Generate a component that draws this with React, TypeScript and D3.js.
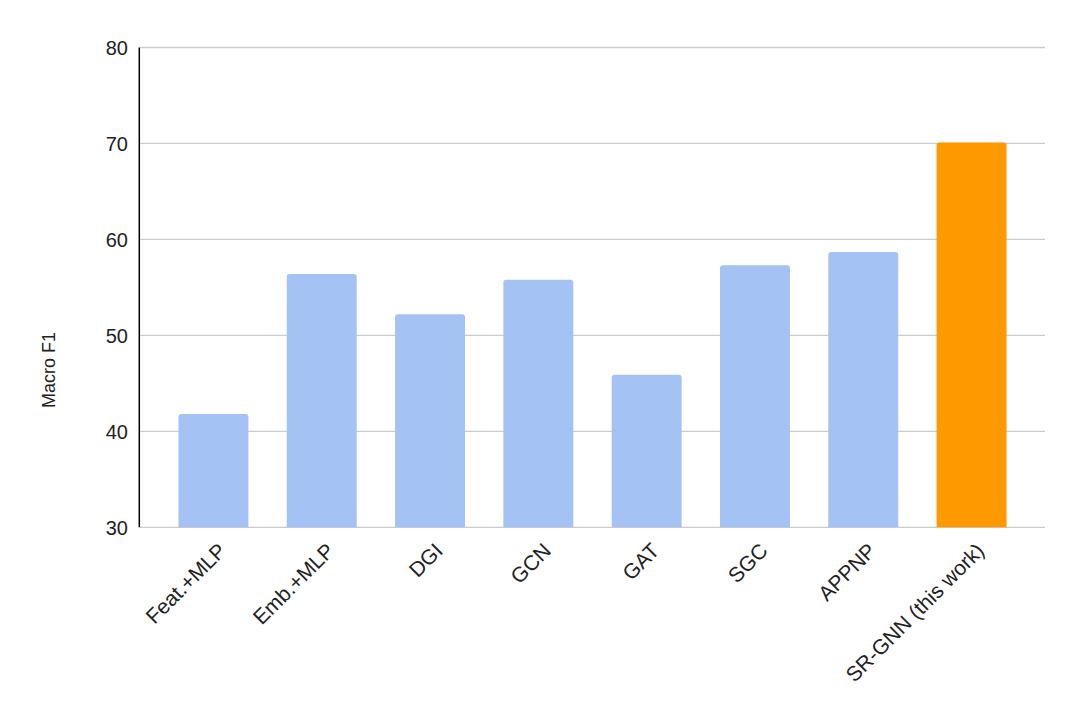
import React from "react";
import * as d3 from "d3";

const categories = ["Feat.+MLP", "Emb.+MLP", "DGI", "GCN", "GAT", "SGC", "APPNP", "SR-GNN (this work)"];
const values = [41.8, 56.4, 52.2, 55.8, 45.9, 57.3, 58.7, 70.1];
const highlight = [false, false, false, false, false, false, false, true];
const yTicks = [30, 40, 50, 60, 70, 80];

export default function App() {
  const W = 1080, H = 718;
  const left = 140, right = 1045, top = 47.5, bottom = 527.3;
  const x = d3.scaleBand<string>().domain(categories).range([left, right]).paddingInner(0.354).paddingOuter(0.355);
  const y = d3.scaleLinear().domain([30, 80]).range([bottom, top]);
  const font = "Arial, 'Liberation Sans', sans-serif";
  const r = 3;
  return (
    <svg width={W} height={H} style={{ position: "absolute", left: 0, top: 0, background: "#fff" }}>
      {yTicks.map((t) => (
        <g key={t}>
          <line x1={left} x2={right} y1={y(t)} y2={y(t)} stroke="#cccccc" strokeWidth={1.3} />
          <text x={128} y={y(t)} dy="0.36em" textAnchor="end" fontFamily={font} fontSize={20} fill="#222">{t}</text>
        </g>
      ))}
      {categories.map((c, i) => {
        const x0 = x(c)!, w = x.bandwidth(), y0 = y(values[i]);
        const path = `M${x0},${bottom} L${x0},${y0 + r} Q${x0},${y0} ${x0 + r},${y0} L${x0 + w - r},${y0} Q${x0 + w},${y0} ${x0 + w},${y0 + r} L${x0 + w},${bottom} Z`;
        return <path key={c} d={path} fill={highlight[i] ? "#ff9900" : "#a4c2f4"} />;
      })}
      <line x1={139.3} x2={139.3} y1={top} y2={bottom} stroke="#000" strokeWidth={1.5} />
      {categories.map((c) => {
        const cx = x(c)! + x.bandwidth() / 2 + 14;
        return (
          <text key={c} transform={`translate(${cx},${552}) rotate(-45)`} textAnchor="end" fontFamily={font} fontSize={21} fill="#222">{c}</text>
        );
      })}
      <text transform={`translate(55,370) rotate(-90)`} textAnchor="middle" fontFamily={font} fontSize={18} fill="#222">Macro F1</text>
    </svg>
  );
}
